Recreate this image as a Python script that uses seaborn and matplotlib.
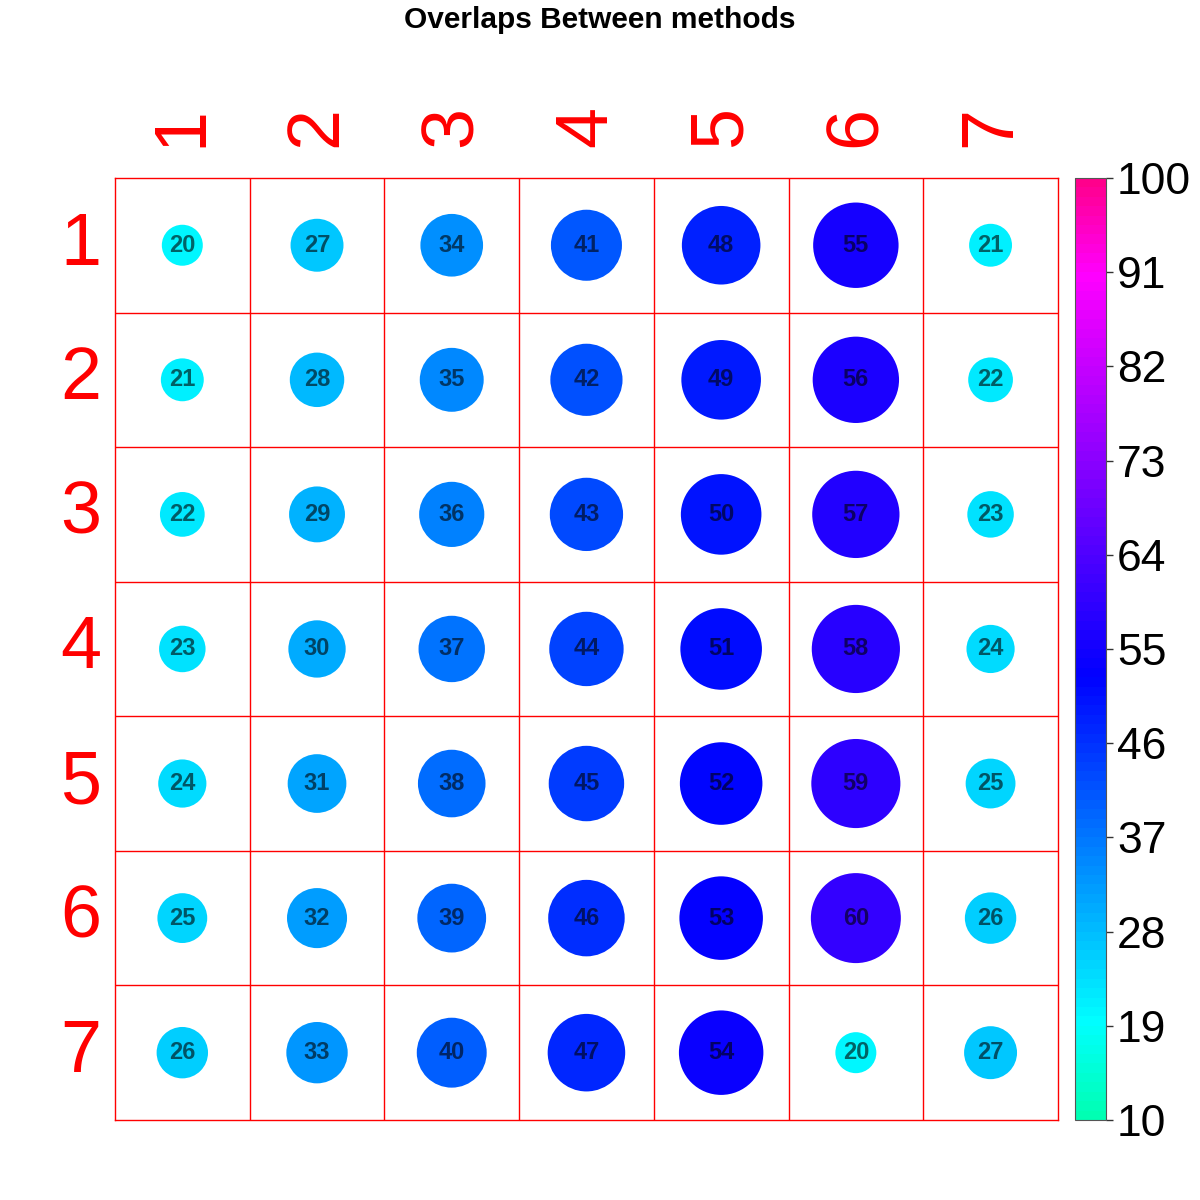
import pandas as pd
import numpy as np
import matplotlib.pyplot as plt
import seaborn as sns
from matplotlib.colors import LinearSegmentedColormap, Normalize
from matplotlib.cm import ScalarMappable

# Overlap values, one list per row
labels = ['1', '2', '3', '4', '5', '6', '7']
row1 = [20, 27, 34, 41, 48, 55, 21]
row2 = [21, 28, 35, 42, 49, 56, 22]
row3 = [22, 29, 36, 43, 50, 57, 23]
row4 = [23, 30, 37, 44, 51, 58, 24]
row5 = [24, 31, 38, 45, 52, 59, 25]
row6 = [25, 32, 39, 46, 53, 60, 26]
row7 = [26, 33, 40, 47, 54, 20, 27]
cbar_ticks = [10, 19, 28, 37, 46, 55, 64, 73, 82, 91, 100]

rows = [row1, row2, row3, row4, row5, row6, row7]

# long format for seaborn
records = []
for i, r in enumerate(rows):
    for j, v in enumerate(r):
        records.append({'row': i + 1, 'col': j + 1, 'value': v})
df = pd.DataFrame(records)

# springgreen -> cyan -> blue -> magenta -> deeppink
cmap = LinearSegmentedColormap.from_list(
    'overlap',
    [(0.0, (0.0, 1.0, 0.7)),
     (0.1, (0.0, 1.0, 1.0)),
     (0.47, (0.0, 0.0, 1.0)),
     (0.9, (1.0, 0.0, 1.0)),
     (1.0, (1.0, 0.0, 0.55))], N=100)
norm = Normalize(vmin=10, vmax=100)

plt.rcParams['font.family'] = ['Liberation Sans', 'DejaVu Sans']
fig = plt.figure(figsize=(12, 12), dpi=100)
ax = fig.add_axes([0.0958, 0.0667, 0.7858, 0.785])

sns.scatterplot(data=df, x='col', y='row', hue='value', palette=cmap, hue_norm=norm,
                size='value', sizes=(871, 4199), size_norm=(20, 60),
                linewidth=0, legend=False, ax=ax, zorder=3)

# numbers inside the circles
for _, d in df.iterrows():
    ax.text(d['col'], d['row'], str(int(d['value'])), ha='center', va='center',
            fontsize=17, fontweight='bold', color='black', alpha=0.6, zorder=4)

ax.set_xlim(0.5, 7.5)
ax.set_ylim(7.5, 0.5)

# red grid
for k in range(1, 7):
    ax.axvline(k + 0.5, color='red', lw=1, zorder=1)
    ax.axhline(k + 0.5, color='red', lw=1, zorder=1)
for s in ax.spines.values():
    s.set_color('red')
    s.set_linewidth(1)

ax.set_xticks(range(1, 8))
ax.set_yticks(range(1, 8))
ax.set_xticklabels(labels, rotation=90, fontsize=53, color='red')
ax.set_yticklabels(labels, fontsize=53, color='red', va='center')
ax.xaxis.tick_top()
ax.tick_params(axis='x', length=0, pad=22)
ax.tick_params(axis='y', length=0, pad=10)
ax.set_xlabel('')
ax.set_ylabel('')

# colour bar
cax = fig.add_axes([0.8958, 0.0667, 0.0258, 0.785])
cb = fig.colorbar(ScalarMappable(norm=norm, cmap=cmap), cax=cax, ticks=cbar_ticks)
cb.ax.tick_params(labelsize=32, length=5, width=1, color='#333333', pad=3)
cb.outline.set_edgecolor('#555555')
cb.outline.set_linewidth(0.8)

fig.suptitle('Overlaps Between methods', fontsize=21.5, fontweight='bold', y=0.995)

plt.savefig('out.png', dpi=100)
